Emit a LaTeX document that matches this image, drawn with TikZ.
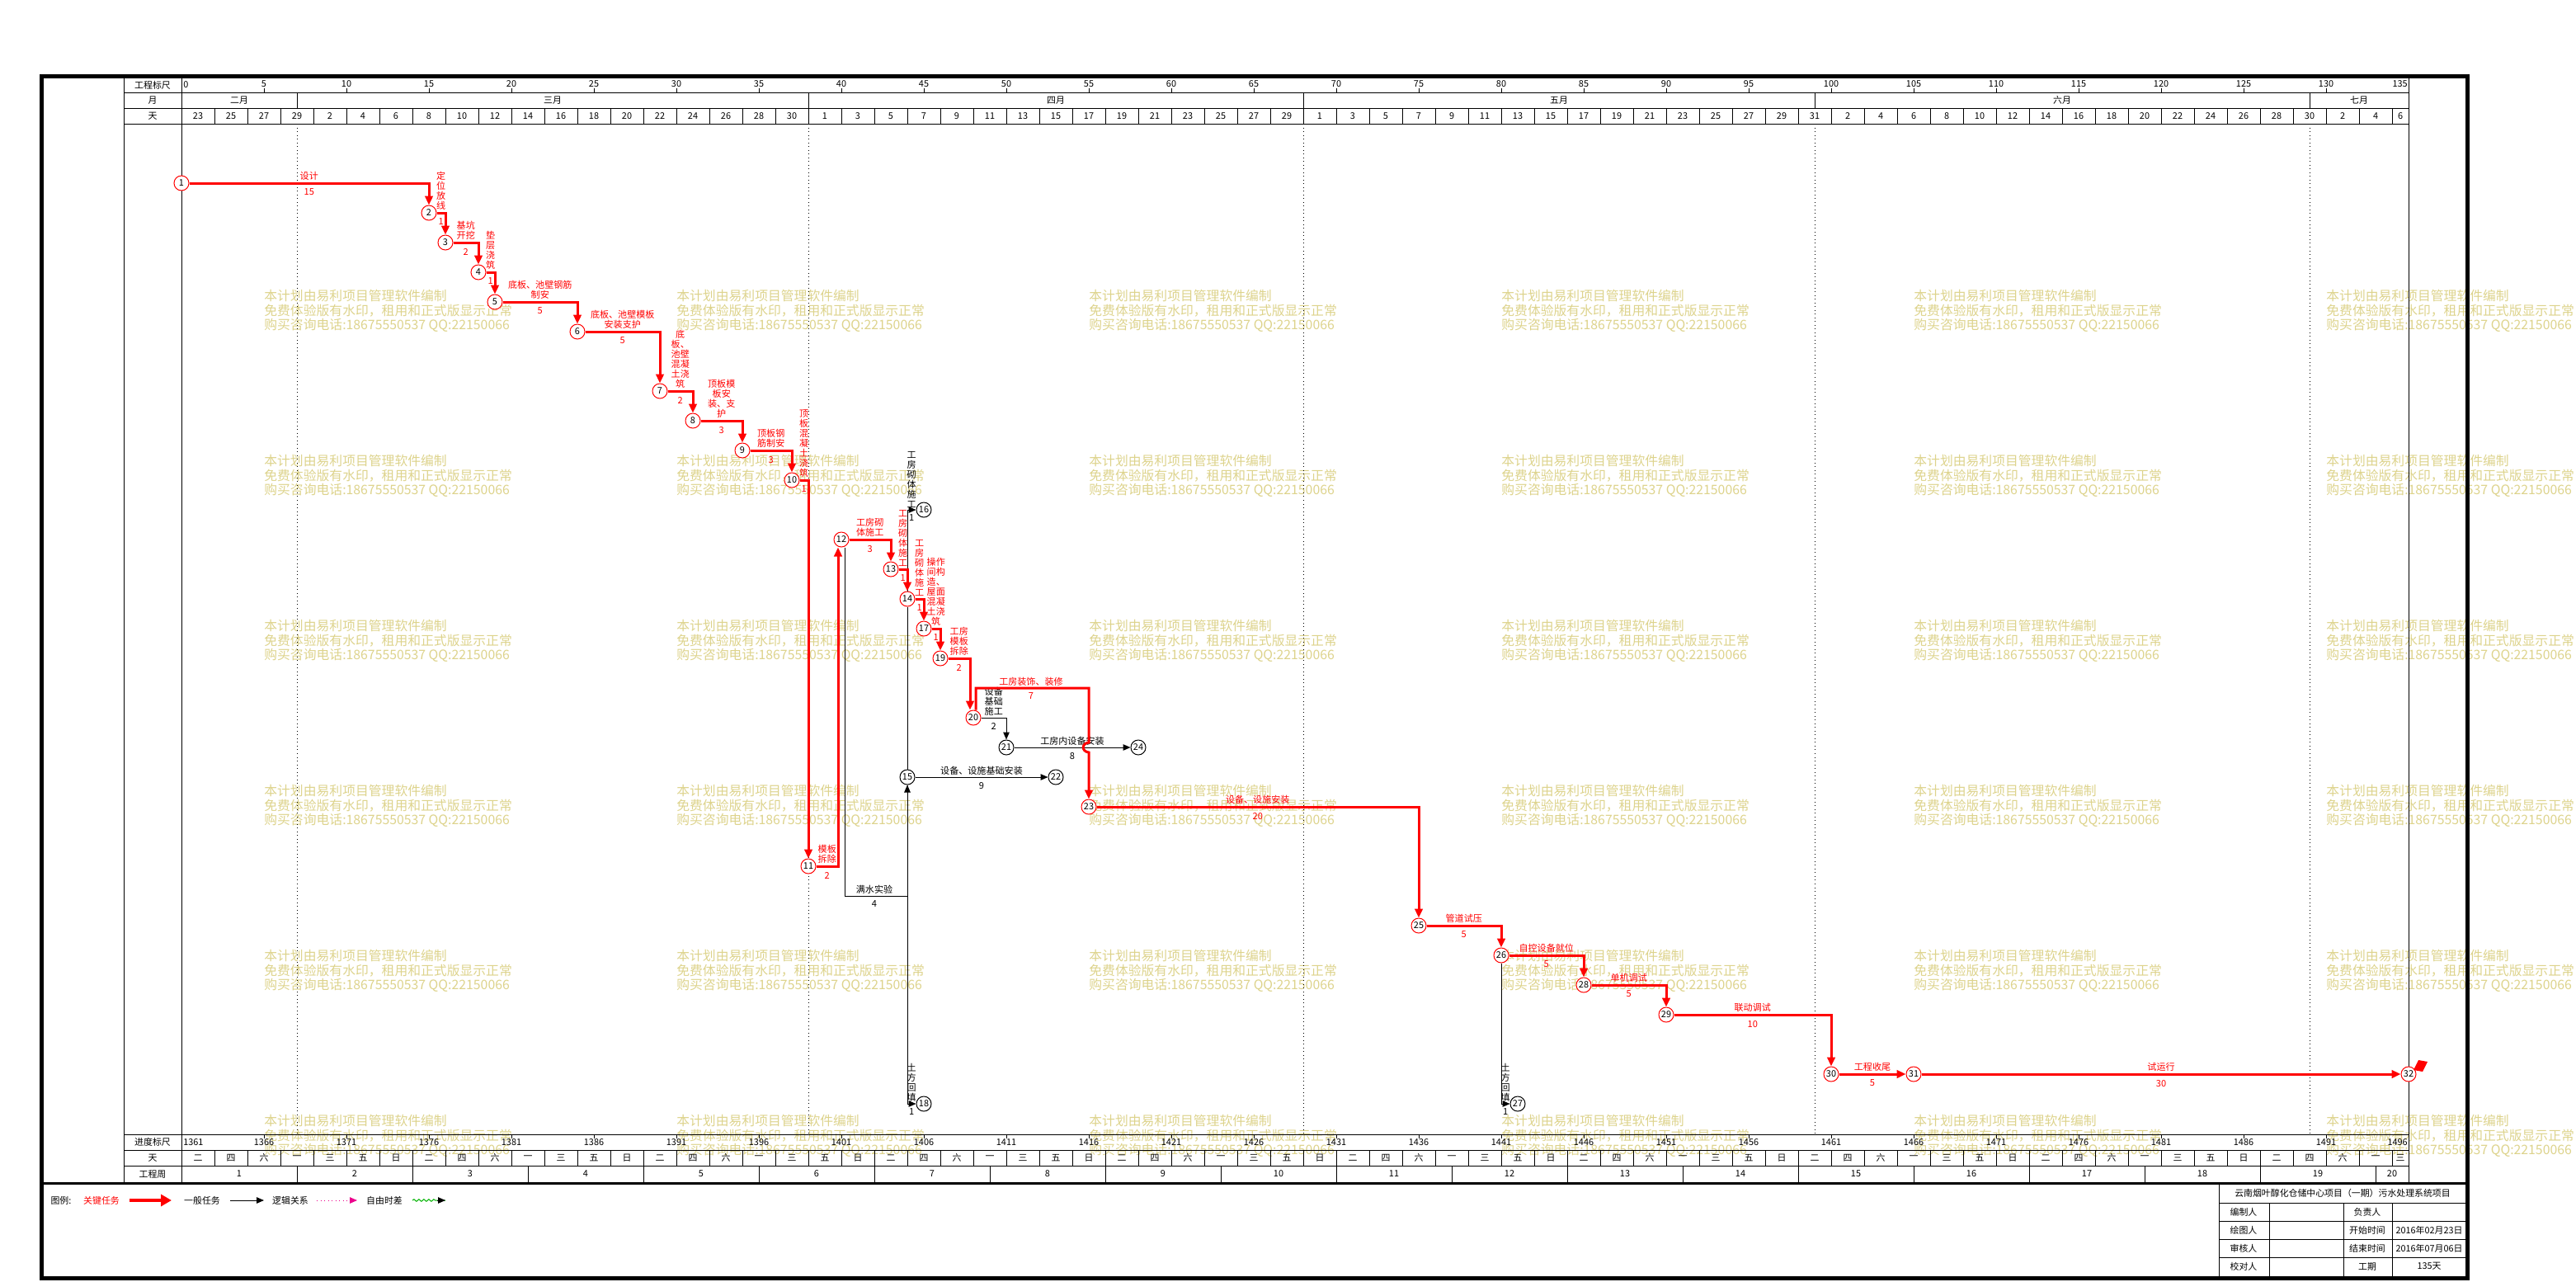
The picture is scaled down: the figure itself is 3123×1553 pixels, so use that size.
\documentclass[tikz,border=0pt]{standalone}
\usepackage{fontspec}
\setmainfont{Noto Sans CJK SC}
\usetikzlibrary{arrows.meta,decorations.pathmorphing,calc}
\definecolor{wmark}{RGB}{221,211,140}
\newcommand\lblfont{\fontsize{6.3}{6.8}\selectfont}
\newcommand\numfont{\fontsize{6.2}{6.8}\selectfont}
\newcommand\wmfont{\fontsize{9}{9.9}\selectfont}
\newcommand\wkday[1]{\ifcase#1 二\or 四\or 六\or 一\or 三\or 五\or 日\fi}

\begin{document}
\begin{tikzpicture}[x=0.2mm,y=-0.2mm]
	\tikzstyle{event}=[circle,draw=red,line width=0.2mm,fill=white,minimum size=3.6mm,inner sep=0pt,font=\numfont]
	\tikzstyle{nevent}=[event,draw=black]
	\tikzstyle{crit}=[draw=red,line width=0.6mm,-{Triangle[length=2.2mm,width=1.9mm]}]
	\tikzstyle{norm}=[draw=black,line width=0.2mm,-{Triangle[length=1.8mm,width=1.5mm]}]
	\tikzstyle{cname}=[text=red,font=\lblfont,align=center,inner sep=0.3mm,above=0.1mm]
	\tikzstyle{cdur}=[text=red,font=\lblfont,inner sep=0.3mm,below=0.8mm]
	\tikzstyle{nname}=[cname,text=black]
	\tikzstyle{ndur}=[cdur,text=black]
	\tikzstyle{grid}=[line width=0.2mm]
	\tikzstyle{hdr}=[font=\numfont,inner sep=0pt]
	\tikzstyle{wmk}=[text=wmark,font=\wmfont,align=left,inner sep=0pt,anchor=north west]
	\useasboundingbox (0,0) rectangle (3123,1553);

	% watermark
	\foreach \wx in {320,820,...,2820}
		\foreach \wy in {351,551,...,1351}
			\node[wmk] (wm\wx-\wy) at (\wx,\wy) {本计划由易利项目管理软件编制\\免费体验版有水印，租用和正式版显示正常\\购买咨询电话:18675550537 QQ:22150066};

	% frame and time scales
	\draw[line width=1mm] (50,92) rectangle (2991,1549);
	\draw[line width=0.6mm] (50,1434) -- (2991,1434);
	\draw[grid] (150,94) -- (150,1433) (220,94) -- (220,1433) (2920,94) -- (2920,1433);
	\draw[grid] (150,112) -- (2920,112) (150,131) -- (2920,131) (150,150) -- (2920,150);
	\draw[grid] (150,1375) -- (2920,1375) (150,1394) -- (2920,1394) (150,1413) -- (2920,1413);
	\foreach \x in {360,980,1580,2200,2800} {
		\draw[grid] (\x,112) -- (\x,131);
		\draw[grid,dotted] (\x,150) -- (\x,1375);
	}
	\foreach \i in {1,...,67} {
		\draw[grid] (220+40*\i,131) -- (220+40*\i,150);
		\draw[grid] (220+40*\i,1394) -- (220+40*\i,1413);
	}
	\foreach \i in {1,...,19}
		\draw[grid] (220+140*\i,1413) -- (220+140*\i,1433);
	\foreach \k in {1,...,26} {
		\draw[grid] (220+100*\k,107) -- (220+100*\k,112);
		\draw[grid] (220+100*\k,1375) -- (220+100*\k,1380);
	}
	\node[hdr] (h1) at (185,103) {工程标尺};
	\node[hdr] (h2) at (185,121.5) {月};
	\node[hdr] (h3) at (185,140.5) {天};
	\node[hdr] (h4) at (185,1384.5) {进度标尺};
	\node[hdr] (h5) at (185,1403.5) {天};
	\node[hdr] (h6) at (185,1423) {工程周};
	\node[hdr,anchor=west] (s0) at (222,103) {0};
	\foreach \k [evaluate=\k as \v using {int(5*\k)}] in {1,...,26}
		\node[hdr] (s\k) at (220+100*\k,102) {\v};
	\node[hdr,anchor=east] (s27) at (2919,102) {135};
	\node[hdr,anchor=west] (p0) at (222,1385) {1361};
	\foreach \k [evaluate=\k as \v using {int(1361+5*\k)}] in {1,...,26}
		\node[hdr] (p\k) at (220+100*\k,1385) {\v};
	\node[hdr,anchor=east] (p27) at (2919,1385) {1496};
	\node[hdr] (m2) at (290,121.5) {二月};
	\node[hdr] (m3) at (670,121.5) {三月};
	\node[hdr] (m4) at (1280,121.5) {四月};
	\node[hdr] (m5) at (1890,121.5) {五月};
	\node[hdr] (m6) at (2500,121.5) {六月};
	\node[hdr] (m7) at (2860,121.5) {七月};
	\foreach \d [count=\i from 0] in {23,25,27,29,2,4,6,8,10,12,14,16,18,20,22,24,26,28,30,1,3,5,7,9,11,13,15,17,19,21,23,25,27,29,1,3,5,7,9,11,13,15,17,19,21,23,25,27,29,31,2,4,6,8,10,12,14,16,18,20,22,24,26,28,30,2,4}
		\node[hdr] (dy\i) at (240+40*\i,140.5) {\d};
	\node[hdr] (dy67) at (2910,140.5) {6};
	\foreach \i [evaluate=\i as \w using {int(mod(\i,7))}] in {0,...,66}
		\node[hdr] (wd\i) at (240+40*\i,1403.5) {\wkday{\w}};
	\node[hdr] (wd67) at (2910,1403.5) {三};
	\foreach \k in {1,...,19}
		\node[hdr] (wn\k) at (150+140*\k,1423) {\k};
	\node[hdr] (wn20) at (2900,1423) {20};

	% events
	\node[event] (e1) at (220,222) {1};
	\node[event] (e2) at (520,258) {2};
	\node[event] (e3) at (540,294) {3};
	\node[event] (e4) at (580,330) {4};
	\node[event] (e5) at (600,366) {5};
	\node[event] (e6) at (700,402) {6};
	\node[event] (e7) at (800,474) {7};
	\node[event] (e8) at (840,510) {8};
	\node[event] (e9) at (900,546) {9};
	\node[event] (e10) at (960,582) {10};
	\node[event] (e11) at (980,1050) {11};
	\node[event] (e12) at (1020,654) {12};
	\node[event] (e13) at (1080,690) {13};
	\node[event] (e14) at (1100,726) {14};
	\node[nevent] (e15) at (1100,942) {15};
	\node[nevent] (e16) at (1120,618) {16};
	\node[event] (e17) at (1120,762) {17};
	\node[nevent] (e18) at (1120,1338) {18};
	\node[event] (e19) at (1140,798) {19};
	\node[event] (e20) at (1180,870) {20};
	\node[nevent] (e21) at (1220,906) {21};
	\node[nevent] (e22) at (1280,942) {22};
	\node[event] (e23) at (1320,978) {23};
	\node[nevent] (e24) at (1380,906) {24};
	\node[event] (e25) at (1720,1122) {25};
	\node[event] (e26) at (1820,1158) {26};
	\node[nevent] (e27) at (1840,1338) {27};
	\node[event] (e28) at (1920,1194) {28};
	\node[event] (e29) at (2020,1230) {29};
	\node[event] (e30) at (2220,1302) {30};
	\node[event] (e31) at (2320,1302) {31};
	\node[event] (e32) at (2920,1302) {32};
	\coordinate (w12) at (1060,1086);
	\coordinate (k20) at (1183,834);

	% general tasks
	\draw[norm] (e14) |- node[nname,pos=.75] (t14a) {工\\房\\砌\\体\\施\\工} node[ndur,pos=.75] (d14a) {1} (e16);
	\draw[grid] (e14) -- (e15);
	\draw[norm] (e15) |- node[nname,pos=.75] (t15b) {土\\方\\回\\填} node[ndur,pos=.75] (d15b) {1} (e18);
	\draw[norm] ([xshift=0.8mm]e12.south) |- (w12) -| (e15);
	\node[nname] (t12b) at (w12) {满水实验};
	\node[ndur] (d12b) at (w12) {4};
	\draw[norm] (e15) -- node[nname] (t15a) {设备、设施基础安装} node[ndur] (d15a) {9} (e22);
	\draw[norm] (e20) -| node[nname,pos=.25] (t20b) {设备\\基础\\施工} node[ndur,pos=.25] (d20b) {2} (e21);
	\draw[norm] (e21) -- node[nname] (t21) {工房内设备安装} node[ndur] (d21) {8} (e24);
	\draw[norm] (e26) |- node[nname,pos=.75] (t26b) {土\\方\\回\\填} node[ndur,pos=.75] (d26b) {1} (e27);

	% critical tasks
	\draw[crit] (e1) -| node[cname,pos=.25] (t1) {设计} node[cdur,pos=.25] (d1) {15} (e2);
	\draw[crit] (e2) -| node[cname,pos=.25] (t2) {定\\位\\放\\线} node[cdur,pos=.25] (d2) {1} (e3);
	\draw[crit] (e3) -| node[cname,pos=.25] (t3) {基坑\\开挖} node[cdur,pos=.25] (d3) {2} (e4);
	\draw[crit] (e4) -| node[cname,pos=.25] (t4) {垫\\层\\浇\\筑} node[cdur,pos=.25] (d4) {1} (e5);
	\draw[crit] (e5) -| node[cname,pos=.25] (t5) {底板、池壁钢筋\\制安} node[cdur,pos=.25] (d5) {5} (e6);
	\draw[crit] (e6) -| node[cname,pos=.25] (t6) {底板、池壁模板\\安装支护} node[cdur,pos=.25] (d6) {5} (e7);
	\draw[crit] (e7) -| node[cname,pos=.25] (t7) {底\\板、\\池壁\\混凝\\土浇\\筑} node[cdur,pos=.25] (d7) {2} (e8);
	\draw[crit] (e8) -| node[cname,pos=.25] (t8) {顶板模\\板安\\装、支\\护} node[cdur,pos=.25] (d8) {3} (e9);
	\draw[crit] (e9) -| node[cname,pos=.25] (t9) {顶板钢\\筋制安} node[cdur,pos=.25] (d9) {3} (e10);
	\draw[crit] (e10) -| node[cname,pos=.25] (t10) {顶\\板\\混\\凝\\土\\浇\\筑} node[cdur,pos=.25] (d10) {1} (e11);
	\draw[crit] (e11) -| node[cname,pos=.25] (t11) {模板\\拆除} node[cdur,pos=.25] (d11) {2} ([xshift=-0.8mm]e12.south);
	\draw[crit] (e12) -| node[cname,pos=.25] (t12) {工房砌\\体施工} node[cdur,pos=.25] (d12) {3} (e13);
	\draw[crit] (e13) -| node[cname,pos=.25] (t13) {工\\房\\砌\\体\\施\\工} node[cdur,pos=.25] (d13) {1} (e14);
	\draw[crit] (e14) -| node[cname,pos=.25] (t14) {工\\房\\砌\\体\\施\\工} node[cdur,pos=.25] (d14) {1} (e17);
	\draw[crit] (e17) -| node[cname,pos=.25] (t17) {操作\\间构\\造、\\屋面\\混凝\\土浇\\筑} node[cdur,pos=.25] (d17) {1} (e19);
	\draw[crit] (e19) -| node[cname,pos=.25] (t19) {工房\\模板\\拆除} node[cdur,pos=.25] (d19) {2} ([xshift=-0.8mm]e20.north);
	\draw[crit] ([xshift=0.6mm]e20.north) -- (k20) -- (k20 -| e23) -- ($(e23 |- e21)+(0,-6)$) .. controls +(-9,1) and +(-9,-1) .. ($(e23 |- e21)+(0,6)$) -- (e23);
	\node[cname] (t20) at (1250,834) {工房装饰、装修};
	\node[cdur] (d20) at (1250,834) {7};
	\draw[crit] (e23) -| node[cname,pos=.25] (t23) {设备、设施安装} node[cdur,pos=.25] (d23) {20} (e25);
	\draw[crit] (e25) -| node[cname,pos=.25] (t25) {管道试压} node[cdur,pos=.25] (d25) {5} (e26);
	\draw[crit] (e26) -| node[cname,pos=.25] (t26) {自控设备就位} node[cdur,pos=.25] (d26) {5} (e28);
	\draw[crit] (e28) -| node[cname,pos=.25] (t28) {单机调试} node[cdur,pos=.25] (d28) {5} (e29);
	\draw[crit] (e29) -| node[cname,pos=.25] (t29) {联动调试} node[cdur,pos=.25] (d29) {10} (e30);
	\draw[crit] (e30) -- node[cname] (t30) {工程收尾} node[cdur] (d30) {5} (e31);
	\draw[crit] (e31) -- node[cname] (t31) {试运行} node[cdur] (d31) {30} (e32);
	\fill[red] (2926,1297) -- (2932,1285) -- (2943,1287) -- (2937,1299) -- cycle;

	% legend
	\node[hdr] (lg0) at (74,1455) {图例:};
	\node[hdr,text=red] (lg1) at (123,1455) {关键任务};
	\draw[red,line width=0.9mm,-{Triangle[length=2.6mm,width=2.8mm]}] (157,1455) -- (208,1455);
	\node[hdr] (lg2) at (245,1455) {一般任务};
	\draw[norm] (279,1455) -- (320,1455);
	\node[hdr] (lg3) at (352,1455) {逻辑关系};
	\draw[magenta,line width=0.2mm,dotted,-{Triangle[length=1.8mm,width=1.5mm]}] (384,1455) -- (433,1455);
	\node[hdr] (lg4) at (466,1455) {自由时差};
	\draw[green!70!black,line width=0.2mm,decorate,decoration={snake,amplitude=0.25mm,segment length=1.2mm,post length=2mm}] (500,1455) -- (540,1455);
	\draw[norm] (530,1455) -- (540,1455);

	% title block
	\draw[grid] (2690,1434) -- (2690,1549);
	\foreach \y in {1458,1480,1502,1524}
		\draw[grid] (2690,\y) -- (2991,\y);
	\draw[grid] (2751,1458) -- (2751,1549) (2841,1458) -- (2841,1549) (2900,1458) -- (2900,1549);
	\node[hdr] (tb0) at (2840,1446) {云南烟叶醇化仓储中心项目（一期）污水处理系统项目};
	\node[hdr] (tb1) at (2720,1469) {编制人};
	\node[hdr] (tb2) at (2870,1469) {负责人};
	\node[hdr] (tb3) at (2720,1491) {绘图人};
	\node[hdr] (tb4) at (2870,1491) {开始时间};
	\node[hdr] (tb5) at (2945,1491) {2016年02月23日};
	\node[hdr] (tb6) at (2720,1513) {审核人};
	\node[hdr] (tb7) at (2870,1513) {结束时间};
	\node[hdr] (tb8) at (2945,1513) {2016年07月06日};
	\node[hdr] (tb9) at (2720,1535) {校对人};
	\node[hdr] (tb10) at (2870,1535) {工期};
	\node[hdr] (tb11) at (2945,1535) {135天};
\end{tikzpicture}
\end{document}
